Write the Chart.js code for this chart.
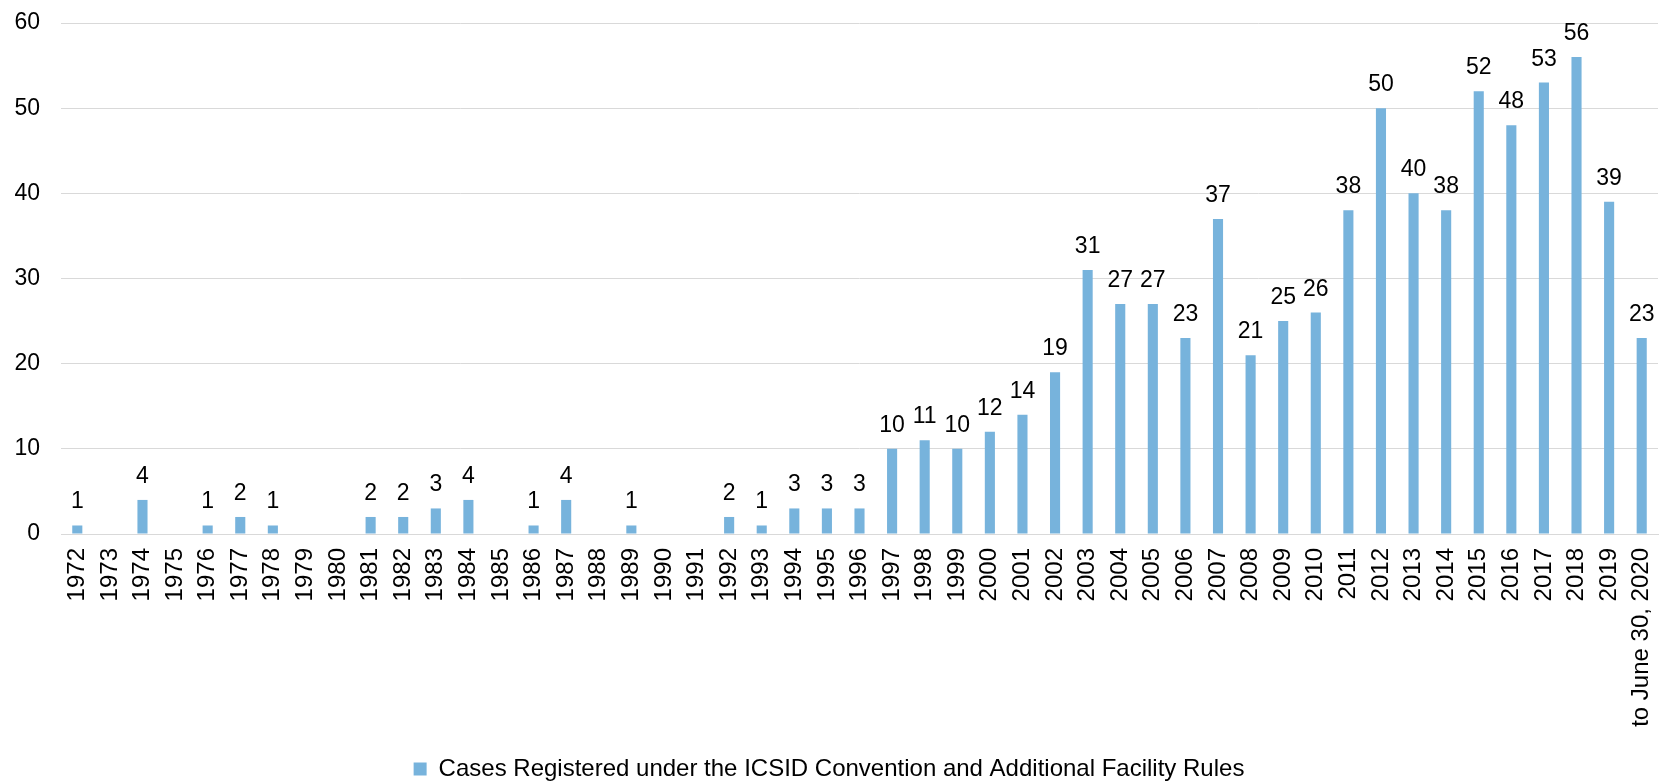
<!DOCTYPE html>
<html>
<head>
<meta charset="utf-8">
<script src="https://cdn.jsdelivr.net/npm/chart.js@4"></script>
<style>
  html, body { margin: 0; padding: 0; background: #fff; }
  #wrap { width: 1662px; height: 782px; }
</style>
</head>
<body>
<div id="wrap"><canvas id="c" width="1662" height="782"></canvas></div>
<script>
const years = ['1972','1973','1974','1975','1976','1977','1978','1979','1980','1981','1982','1983','1984','1985','1986','1987','1988','1989','1990','1991','1992','1993','1994','1995','1996','1997','1998','1999','2000','2001','2002','2003','2004','2005','2006','2007','2008','2009','2010','2011','2012','2013','2014','2015','2016','2017','2018','2019','to June 30, 2020'];
const cases = [1,0,4,0,1,2,1,0,0,2,2,3,4,0,1,4,0,1,0,0,2,1,3,3,3,10,11,10,12,14,19,31,27,27,23,37,21,25,26,38,50,40,38,52,48,53,56,39,23];
const seriesName = 'Cases Registered under the ICSID Convention and Additional Facility Rules';
const yTicks = { min: 0, max: 60, step: 10 };

const FONT = "'Liberation Sans', Arial, sans-serif";
const BAR = '#77b3dc';
const GRID = '#d9d9d9';

const valueLabels = {
  id: 'valueLabels',
  afterDatasetsDraw(chart) {
    const ctx = chart.ctx;
    const meta = chart.getDatasetMeta(0);
    ctx.save();
    ctx.font = '23px ' + FONT;
    ctx.fillStyle = '#000';
    ctx.textAlign = 'center';
    ctx.textBaseline = 'alphabetic';
    meta.data.forEach((el, i) => {
      const v = chart.data.datasets[0].data[i];
      if (!v) return;
      ctx.fillText(String(v), el.x, el.y - 17);
    });
    ctx.restore();
  }
};

new Chart(document.getElementById('c'), {
  type: 'bar',
  data: {
    labels: years,
    datasets: [{
      label: seriesName,
      data: cases,
      backgroundColor: BAR,
      borderWidth: 0,
      categoryPercentage: 1.0,
      barPercentage: 0.31
    }]
  },
  options: {
    responsive: false,
    animation: false,
    devicePixelRatio: 1,
    layout: { padding: { left: 0, right: 4, top: 23, bottom: -9 } },
    plugins: {
      legend: {
        position: 'bottom',
        labels: {
          font: { family: FONT, size: 24 },
          color: '#000',
          boxWidth: 13,
          boxHeight: 13,
          padding: 2
        }
      },
      tooltip: { enabled: false }
    },
    scales: {
      x: {
        grid: { display: false, drawTicks: false },
        border: { display: true, color: GRID, width: 1 },
        ticks: {
          font: { family: FONT, size: 24 },
          color: '#000',
          maxRotation: 90,
          minRotation: 90,
          autoSkip: false,
          padding: 14
        },
        afterFit(scale) {
          scale.height = 221;
          scale.paddingLeft = 0;
          scale.paddingRight = 0;
        }
      },
      y: {
        min: yTicks.min,
        max: yTicks.max,
        grid: { color: GRID, lineWidth: 1, drawTicks: false },
        border: { display: false },
        ticks: {
          stepSize: yTicks.step,
          font: { family: FONT, size: 23 },
          color: '#000',
          padding: 21
        },
        afterFit(scale) {
          scale.width = 61;
          scale.paddingTop = 0;
          scale.paddingBottom = 0;
        }
      }
    }
  },
  plugins: [valueLabels]
});
</script>
</body>
</html>
